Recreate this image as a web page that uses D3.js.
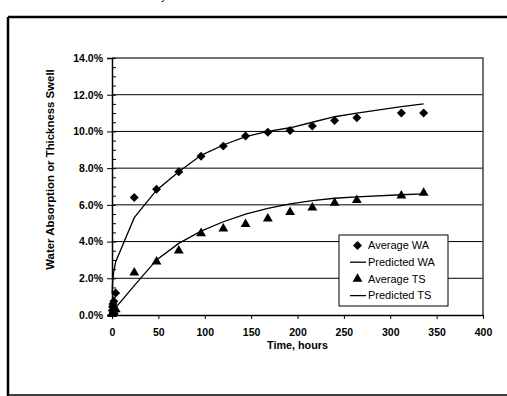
<!DOCTYPE html>
<html>
<head>
<meta charset="utf-8">
<script src="https://cdn.jsdelivr.net/npm/d3@7/dist/d3.min.js"></script>
<style>
    body { margin: 0; background: #fff; }
    svg { display: block; font-family: 'Liberation Sans', Arial, sans-serif; }
</style>
</head>
<body>
<div id="chart"></div>
<script>
// time of each reading, hours
const hours = [0.25, 0.5, 1, 2, 4, 24, 48, 72, 96, 120, 144, 168, 192, 216, 240, 264, 312, 336];
// values in percent
const averageWA = [0.25, 0.45, 0.6, 0.75, 1.2, 6.4, 6.85, 7.8, 8.65, 9.2, 9.75, 9.95, 10.05, 10.3, 10.6, 10.75, 11.0, 11.0];
const predictedWA = [1.2, 1.6, 2.0, 2.4, 2.9, 5.3, 6.8, 7.8, 8.7, 9.26, 9.72, 10.0, 10.2, 10.5, 10.8, 11.0, 11.35, 11.5];
const averageTS = [0.05, 0.1, 0.15, 0.2, 0.3, 2.3, 2.9, 3.5, 4.45, 4.7, 4.95, 5.25, 5.6, 5.85, 6.1, 6.25, 6.5, 6.65];
const predictedTS = [0.05, 0.1, 0.15, 0.25, 0.4, 1.6, 3.0, 3.9, 4.57, 5.08, 5.5, 5.81, 6.05, 6.23, 6.36, 6.44, 6.55, 6.6];

const xTicks = [0, 50, 100, 150, 200, 250, 300, 350, 400];
const yTicks = [0, 2, 4, 6, 8, 10, 12, 14];
const yMinorTicks = d3.range(0, 14.01, 0.5);
const legendLabels = ['Average WA', 'Predicted WA', 'Average TS', 'Predicted TS'];

const W = 507, H = 396;
const margin = { top: 58, right: 24, bottom: 81, left: 112 };
const width = W - margin.left - margin.right;
const height = H - margin.top - margin.bottom;

const root = d3.select('#chart').append('svg')
    .attr('width', W)
    .attr('height', H);

// outer frame (page border)
root.append('line').attr('x1', 8).attr('x2', W).attr('y1', 17).attr('y2', 17)
    .attr('stroke', '#000').attr('stroke-width', 2.5);
root.append('line').attr('x1', 8).attr('x2', 8).attr('y1', 17).attr('y2', H)
    .attr('stroke', '#000').attr('stroke-width', 2.5);
root.append('line').attr('x1', 8).attr('x2', W).attr('y1', 395).attr('y2', 395)
    .attr('stroke', '#000').attr('stroke-width', 1.5);
// clipped caption letter above the frame
root.append('text').attr('x', 161).attr('y', 0).attr('font-size', 11).text('y');

const svg = root.append('g')
    .attr('transform', 'translate(' + margin.left + ',' + margin.top + ')');

const x = d3.scaleLinear().domain([0, 400]).range([0, width]);
const y = d3.scaleLinear().domain([0, 14]).range([height, 0]);

// gridlines
svg.append('g')
    .selectAll('line')
    .data(yTicks.filter((d) => d > 0 && d < 14))
    .join('line')
    .attr('x1', 0).attr('x2', width)
    .attr('y1', (d) => y(d)).attr('y2', (d) => y(d))
    .attr('stroke', '#000').attr('stroke-width', 1);

// plot area border (top + right)
svg.append('path')
    .attr('d', `M0,0H${width}V${height}`)
    .attr('fill', 'none')
    .attr('stroke', '#444')
    .attr('stroke-width', 1.5);

// y axis
const yAxis = svg.append('g')
    .call(d3.axisLeft(y).tickValues(yTicks).tickSize(5).tickPadding(4)
        .tickFormat((d) => d.toFixed(1) + '%'));
svg.append('g')
    .call(d3.axisRight(y).tickValues(yMinorTicks).tickSize(4).tickFormat(''))
    .call((g) => g.select('.domain').remove());

// x axis
const xAxis = svg.append('g')
    .attr('transform', 'translate(0,' + height + ')')
    .call(d3.axisBottom(x).tickValues(xTicks).tickSize(4).tickPadding(10).tickSizeOuter(0));

[xAxis, yAxis].forEach((axis) => {
    axis.selectAll('text')
        .attr('fill', '#000')
        .attr('font-size', 10.5)
        .attr('font-weight', 'bold')
        .attr('font-family', "'Liberation Sans', Arial, sans-serif");
    axis.selectAll('line').attr('stroke', '#000');
    axis.select('.domain').attr('stroke', '#000').attr('stroke-width', 1.5);
});

// axis titles
svg.append('text')
    .attr('x', x(200))
    .attr('y', 291)
    .attr('text-anchor', 'middle')
    .attr('font-size', 10.8)
    .attr('font-weight', 'bold')
    .text('Time, hours');

svg.append('text')
    .attr('transform', 'translate(-58,' + (height / 2 - 17) + ') rotate(-90)')
    .attr('text-anchor', 'middle')
    .attr('font-size', 11.4)
    .attr('font-weight', 'bold')
    .text('Water Absorption or Thickness Swell');

// predicted lines
const line = d3.line().x((d) => x(d[0])).y((d) => y(d[1]));
[predictedWA, predictedTS].forEach((series) => {
    svg.append('path')
        .datum(hours.map((h, i) => [h, series[i]]))
        .attr('fill', 'none')
        .attr('stroke', '#000')
        .attr('stroke-width', 1.3)
        .attr('d', line);
});

// markers
const diamond = d3.symbol().type(d3.symbolSquare).size(40);
const triangle = d3.symbol().type(d3.symbolTriangle).size(42);

svg.append('g')
    .selectAll('path')
    .data(hours.map((h, i) => [h, averageWA[i]]))
    .join('path')
    .attr('d', diamond)
    .attr('transform', (d) => `translate(${x(d[0])},${y(d[1])}) rotate(45)`)
    .attr('fill', '#000');

svg.append('g')
    .selectAll('path')
    .data(hours.map((h, i) => [h, averageTS[i]]))
    .join('path')
    .attr('d', triangle)
    .attr('transform', (d) => `translate(${x(d[0])},${y(d[1])})`)
    .attr('fill', '#000');

// legend
const legend = root.append('g').attr('transform', 'translate(339,235)');
legend.append('rect')
    .attr('width', 109).attr('height', 71)
    .attr('fill', '#fff').attr('stroke', '#000').attr('stroke-width', 1);

legendLabels.forEach((label, i) => {
    const cy = 10.5 + i * 16.7;
    const row = legend.append('g').attr('transform', 'translate(0,' + cy + ')');
    if (i % 2 === 1) {
        row.append('line').attr('x1', 11).attr('x2', 27).attr('y1', 0).attr('y2', 0)
            .attr('stroke', '#000').attr('stroke-width', 1.3);
    } else if (i === 0) {
        row.append('path').attr('d', diamond).attr('transform', 'translate(18.5,0) rotate(45)');
    } else {
        row.append('path').attr('d', triangle).attr('transform', 'translate(18.5,0)');
    }
    row.append('text')
        .attr('x', 29)
        .attr('dy', '0.35em')
        .attr('font-size', 11)
        .text(label);
});
</script>
</body>
</html>
